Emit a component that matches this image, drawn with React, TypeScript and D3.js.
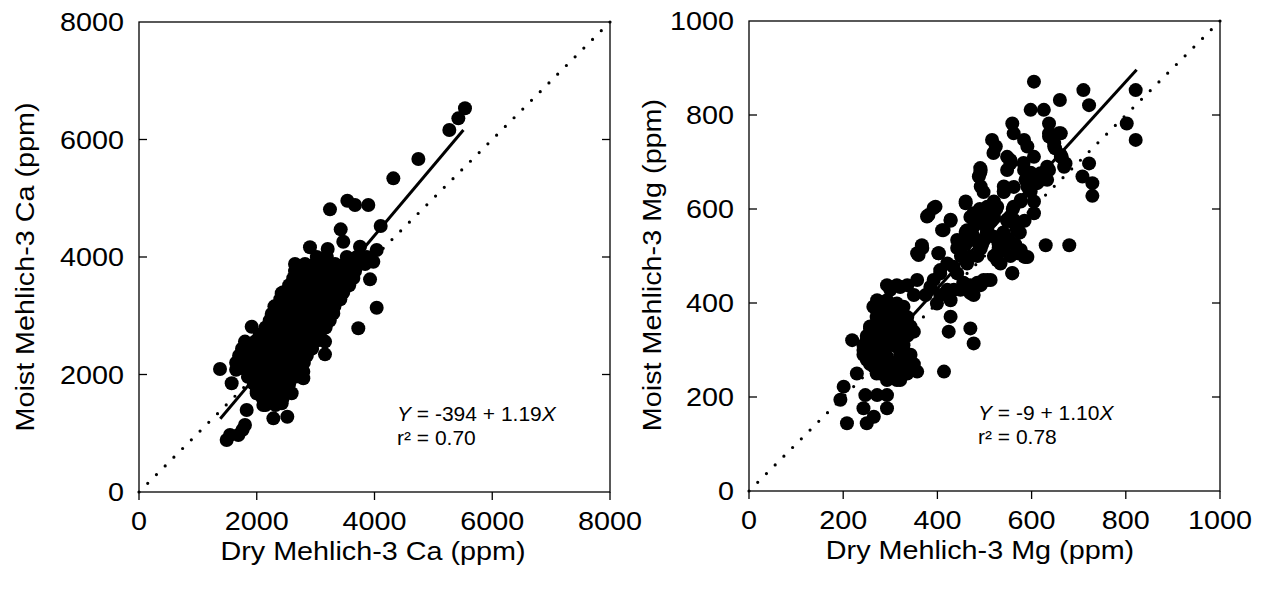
import React, { useEffect } from "react";
import * as d3 from "d3";

// ---------- DATA ----------
// Left panel: Dry vs Moist Mehlich-3 Ca (ppm)
const caPoints: [number, number][] = [
  [5537, 6531], [5424, 6360], [5271, 6161], [4745, 5668], [4320, 5339], [3244, 4811], [3539, 4958],
  [3669, 4885], [3895, 4885], [4105, 4527], [3426, 4471], [3470, 4260], [3754, 4175], [4037, 4119],
  [3980, 3920], [2904, 4165], [3205, 4136], [3924, 3620], [4037, 3137], [3725, 2786], [3159, 2343],
  [2791, 2048], [2791, 1935], [1376, 2093], [1574, 1850], [1914, 2814], [1744, 2361], [2254, 3030],
  [2424, 3382], [1829, 1396], [2282, 1254], [2519, 1282], [1489, 885], [1546, 970], [1687, 970],
  [1800, 1140], [1760, 1060], [2112, 1481], [2593, 1680], [2424, 1510], [1999, 1680],
  [3020, 4000], [3190, 4000], [3530, 4000], [3700, 4000], [3870, 4000],
  [2650, 3880], [2820, 3880], [2990, 3880], [3160, 3880], [3330, 3880], [3500, 3880], [3670, 3880], [3840, 3880],
  [2650, 3760], [2820, 3760], [2990, 3760], [3160, 3760], [3330, 3760], [3500, 3760], [3670, 3760],
  [2620, 3640], [2790, 3640], [2960, 3640], [3130, 3640], [3300, 3640], [3470, 3640], [3640, 3640],
  [2550, 3520], [2720, 3520], [2890, 3520], [3060, 3520], [3230, 3520], [3400, 3520], [3570, 3520],
  [2450, 3400], [2620, 3400], [2790, 3400], [2960, 3400], [3130, 3400], [3300, 3400], [3470, 3400],
  [2400, 3280], [2570, 3280], [2740, 3280], [2910, 3280], [3080, 3280], [3250, 3280], [3420, 3280],
  [2300, 3160], [2470, 3160], [2640, 3160], [2810, 3160], [2980, 3160], [3150, 3160], [3320, 3160],
  [2280, 3040], [2450, 3040], [2620, 3040], [2790, 3040], [2960, 3040], [3130, 3040], [3300, 3040],
  [2220, 2920], [2390, 2920], [2560, 2920], [2730, 2920], [2900, 2920], [3070, 2920], [3240, 2920],
  [2150, 2800], [2320, 2800], [2490, 2800], [2660, 2800], [2830, 2800], [3000, 2800], [3170, 2800],
  [2050, 2680], [2220, 2680], [2390, 2680], [2560, 2680], [2730, 2680], [2900, 2680], [3070, 2680],
  [1800, 2560], [1970, 2560], [2140, 2560], [2310, 2560], [2480, 2560], [2650, 2560], [2820, 2560], [2990, 2560], [3160, 2560],
  [1750, 2440], [1920, 2440], [2090, 2440], [2260, 2440], [2430, 2440], [2600, 2440], [2770, 2440], [2940, 2440],
  [1700, 2320], [1870, 2320], [2040, 2320], [2210, 2320], [2380, 2320], [2550, 2320], [2720, 2320], [2850, 2320],
  [1650, 2200], [1820, 2200], [1990, 2200], [2160, 2200], [2330, 2200], [2500, 2200], [2670, 2200], [2800, 2200],
  [1650, 2080], [1820, 2080], [1990, 2080], [2160, 2080], [2330, 2080], [2500, 2080], [2650, 2080],
  [1850, 1960], [2020, 1960], [2190, 1960], [2360, 1960], [2530, 1960], [2650, 1960],
  [1950, 1840], [2120, 1840], [2290, 1840], [2460, 1840], [2550, 1840],
  [2000, 1720], [2170, 1720], [2340, 1720], [2510, 1720],
  [2100, 1600], [2270, 1600], [2440, 1600], [2150, 1480], [2320, 1480],
];

// Right panel: Dry vs Moist Mehlich-3 Mg (ppm)
const mgPoints: [number, number][] = [
  [605, 871], [710, 853], [821, 853], [722, 821], [660, 832], [598, 811], [626, 811],
  [559, 782], [637, 782], [802, 782], [562, 761], [637, 761], [662, 761],
  [516, 747], [584, 747], [821, 747], [524, 733], [591, 733], [648, 733],
  [548, 711], [605, 711], [662, 711], [555, 697], [722, 697], [672, 697],
  [492, 683], [548, 683], [584, 683], [637, 683], [488, 669], [708, 669],
  [587, 662], [619, 662], [633, 662], [729, 655], [492, 648], [541, 648],
  [541, 637], [598, 637], [729, 628], [460, 616], [520, 616], [577, 616], [605, 616],
  [396, 605], [506, 605], [527, 605], [562, 605], [477, 591], [499, 591], [605, 591],
  [378, 584], [477, 584], [520, 584], [428, 575], [548, 575], [492, 570], [562, 570],
  [410, 555], [463, 555], [506, 555], [570, 555], [477, 541], [520, 541],
  [442, 534], [499, 534], [552, 534], [367, 523], [630, 523], [680, 523],
  [446, 516], [492, 516], [357, 506], [403, 506], [527, 506], [570, 506],
  [470, 499], [584, 499], [421, 484], [463, 484], [534, 484], [406, 463], [559, 463], [442, 463],
  [357, 449], [506, 449], [293, 438], [314, 438], [336, 438], [470, 438], [492, 438],
  [435, 428], [449, 428], [350, 417], [375, 417], [406, 417], [477, 417],
  [272, 406], [293, 406], [428, 406], [399, 399], [314, 399], [272, 382], [321, 382],
  [300, 371], [428, 371], [336, 357], [257, 346], [470, 346], [286, 339], [350, 339], [424, 339],
  [219, 321], [250, 321], [300, 321], [477, 314], [314, 307], [243, 300], [272, 300],
  [293, 286], [339, 286], [250, 279], [307, 272], [265, 265], [328, 265], [357, 254], [414, 254],
  [229, 250], [279, 250], [300, 243], [321, 236], [201, 222], [247, 204], [272, 204], [293, 204],
  [194, 194], [293, 176], [243, 176], [265, 158], [208, 144], [250, 144],
  [264, 392], [285, 392], [307, 392], [328, 392], [271, 370], [293, 370], [314, 370], [336, 370],
  [257, 350], [279, 350], [300, 350], [321, 350], [343, 350], [250, 330], [271, 330], [293, 330],
  [314, 330], [336, 330], [243, 310], [264, 310], [286, 310], [307, 310], [328, 310],
  [243, 290], [264, 290], [286, 290], [321, 290], [343, 290], [257, 270], [279, 270], [300, 270],
  [321, 270], [350, 270], [271, 250], [293, 250], [314, 250], [336, 250], [293, 236], [314, 236],
  [519, 719], [555, 704], [491, 687], [491, 677], [498, 636], [460, 612], [392, 602], [381, 587],
  [428, 577], [413, 555], [460, 551], [368, 517], [360, 502], [402, 506], [442, 517],
  [583, 698], [598, 677], [604, 655], [541, 636], [562, 647],
  [490, 600], [525, 600], [560, 600], [480, 575], [515, 575], [550, 575], [585, 575],
  [470, 550], [505, 550], [540, 550], [575, 550], [460, 525], [495, 525], [530, 525], [565, 525],
  [450, 500], [485, 500], [520, 500], [555, 500],
  [562, 577], [569, 555], [548, 538], [577, 513], [591, 498], [559, 464],
  [513, 449], [485, 443], [455, 443], [421, 428], [385, 434], [321, 434], [300, 428],
  [406, 470], [434, 477], [392, 449],
  [637, 754], [658, 761], [662, 715], [648, 740], [669, 690], [650, 729], [664, 711],
  [612, 655], [619, 676], [633, 690], [591, 648], [577, 619], [470, 583], [548, 577], [566, 570],
  [587, 498], [541, 512], [527, 491], [477, 562], [477, 534], [491, 520], [463, 534], [506, 548],
  [498, 449], [470, 421], [456, 442],
];

const caTicks = [0, 2000, 4000, 6000, 8000];
const mgTicks = [0, 200, 400, 600, 800, 1000];

const caFit = { intercept: -394, slope: 1.19, from: 1380, to: 5510 };
const mgFit = { intercept: -9, slope: 1.1, from: 348, to: 823 };

// ---------- LAYOUT ----------
const FONT = "'Liberation Sans', Arial, Helvetica, sans-serif";
const SX = 1.15; // horizontal stretch of the original lettering
const FS = 25;

type PanelProps = {
  points: [number, number][];
  ticks: number[];
  max: number;
  x0: number;
  x1: number;
  yTop: number;
  yBot: number;
  fit: { intercept: number; slope: number; from: number; to: number };
  xTitle: string;
  xTitleX: number;
  yTitle: string;
  yTitleX: number;
  yTitleY: number;
  eqA: string;
  r2: string;
  eqX: number;
};

function Panel(p: PanelProps) {
  const x = d3.scaleLinear().domain([0, p.max]).range([p.x0, p.x1]);
  const y = d3.scaleLinear().domain([0, p.max]).range([p.yBot, p.yTop]);
  const line = d3
    .line<number>()
    .x((d) => x(d))
    .y((d) => y(p.fit.intercept + p.fit.slope * d));
  const diag = d3
    .line<number>()
    .x((d) => x(d))
    .y((d) => y(d));
  const diagLen = Math.hypot(p.x1 - p.x0, p.yBot - p.yTop);
  const n = Math.round(diagLen / 12.3);
  const dash = `0 ${diagLen / n}`;
  return (
    <g>
      <rect x={p.x0} y={p.yTop} width={p.x1 - p.x0} height={p.yBot - p.yTop} fill="none" stroke="#000" strokeWidth={1.3} />
      {p.ticks.map((t) => (
        <g key={"x" + t}>
          <line x1={x(t)} x2={x(t)} y1={p.yBot} y2={p.yBot + 8} stroke="#000" strokeWidth={1.3} />
          <text transform={`translate(${x(t)},${p.yBot + 38}) scale(${SX},1)`} textAnchor="middle" fontSize={FS} fontFamily={FONT}>
            {t}
          </text>
        </g>
      ))}
      {p.ticks.map((t) => (
        <g key={"y" + t}>
          {t > 0 && t < p.max && (
            <>
              <line x1={p.x0} x2={p.x0 + 8} y1={y(t)} y2={y(t)} stroke="#000" strokeWidth={1.3} />
              <line x1={p.x1 - 8} x2={p.x1} y1={y(t)} y2={y(t)} stroke="#000" strokeWidth={1.3} />
            </>
          )}
          <text transform={`translate(${p.x0 - 15},${y(t) + 9}) scale(${SX},1)`} textAnchor="end" fontSize={FS} fontFamily={FONT}>
            {t}
          </text>
        </g>
      ))}
      <path d={diag([0, p.max]) || ""} stroke="#000" strokeWidth={3.2} strokeLinecap="round" strokeDasharray={dash} fill="none" />
      {p.points.map((d, i) => (
        <circle key={i} cx={x(d[0])} cy={y(d[1])} r={7} fill="#000" />
      ))}
      <path d={line([p.fit.from, p.fit.to]) || ""} stroke="#000" strokeWidth={3} fill="none" />
      <text transform={`translate(${p.xTitleX},${p.yBot + 68}) scale(${SX},1)`} textAnchor="middle" fontSize={FS} fontFamily={FONT}>
        {p.xTitle}
      </text>
      <text transform={`translate(${p.yTitleX},${p.yTitleY}) rotate(-90) scale(${SX},1)`} textAnchor="middle" fontSize={FS} fontFamily={FONT}>
        {p.yTitle}
      </text>
      <text transform={`translate(${p.eqX},${p.yBot - 71}) scale(1.05,1)`} fontSize={20} fontFamily={FONT}>
        <tspan fontStyle="italic">Y</tspan>
        {p.eqA}
        <tspan fontStyle="italic">X</tspan>
      </text>
      <text transform={`translate(${p.eqX},${p.yBot - 47}) scale(1.05,1)`} fontSize={20} fontFamily={FONT}>
        {p.r2}
      </text>
    </g>
  );
}

export default function App() {
  useEffect(() => {
    document.body.style.margin = "0";
  }, []);
  return (
    <svg width={1263} height={593} style={{ display: "block", background: "#fff" }}>
      <Panel
        points={caPoints}
        ticks={caTicks}
        max={8000}
        x0={139}
        x1={610}
        yTop={22}
        yBot={492}
        fit={caFit}
        xTitle="Dry Mehlich-3 Ca (ppm)"
        xTitleX={373}
        yTitle="Moist Mehlich-3 Ca (ppm)"
        yTitleX={34}
        yTitleY={267}
        eqA=" = -394 + 1.19"
        r2="r² = 0.70"
        eqX={397}
      />
      <Panel
        points={mgPoints}
        ticks={mgTicks}
        max={1000}
        x0={749}
        x1={1220}
        yTop={21}
        yBot={491}
        fit={mgFit}
        xTitle="Dry Mehlich-3 Mg (ppm)"
        xTitleX={980}
        yTitle="Moist Mehlich-3 Mg (ppm)"
        yTitleX={661}
        yTitleY={265}
        eqA=" = -9 + 1.10"
        r2="r² = 0.78"
        eqX={978}
      />
    </svg>
  );
}
